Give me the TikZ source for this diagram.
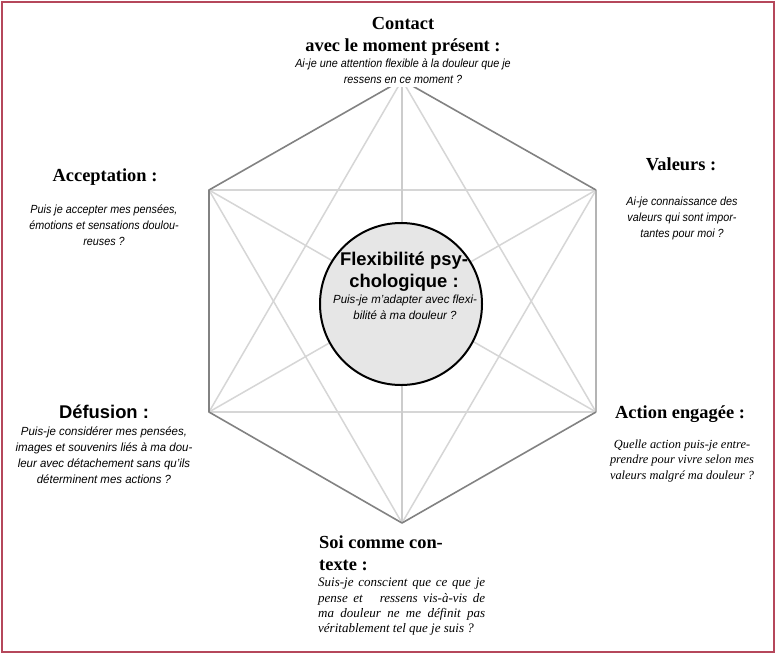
\documentclass[tikz,border=0pt]{standalone}
\usepackage{fontspec}
\setmainfont{Liberation Serif}
\setsansfont{Liberation Sans}
\newfontfamily\narrowsans[FakeStretch=0.915]{Liberation Sans}
\newfontfamily\midsans[FakeStretch=0.97]{Liberation Sans}
\definecolor{frameRed}{HTML}{B5475B}
\definecolor{edgeGrey}{HTML}{828282}
\definecolor{paleEdge}{HTML}{B4B4B4}
\definecolor{innerGrey}{HTML}{D6D6D6}
\definecolor{axisGrey}{HTML}{CCCCCC}
\definecolor{discGrey}{HTML}{E6E6E6}
\tikzset{
  x=1pt,y=-1pt,
  edge/.style={draw=edgeGrey,line width=1.6pt},
  paleedge/.style={draw=paleEdge,line width=2pt},
  inner/.style={draw=innerGrey,line width=1.5pt},
  axis/.style={draw=axisGrey,line width=2pt},
  disc/.style={circle,draw=black,line width=2pt,fill=discGrey,minimum size=162pt,inner sep=0pt},
  serifhead/.style={font=\rmfamily\bfseries\fontsize{18.4}{21.5}\selectfont,align=center,inner sep=0pt},
  sanshead/.style={font=\sffamily\bfseries\fontsize{18.4}{22}\selectfont,align=center,inner sep=0pt},
  sansbody/.style={font=\narrowsans\itshape\fontsize{11.8}{16}\selectfont,align=center,inner sep=0pt},
  midbody/.style={font=\midsans\itshape\fontsize{11.8}{16}\selectfont,align=center,inner sep=0pt},
  serifbody/.style={font=\rmfamily\itshape\fontsize{12.4}{15.4}\selectfont,align=center,inner sep=0pt},
  serifbodybig/.style={font=\rmfamily\itshape\fontsize{13}{15.2}\selectfont,align=left,inner sep=0pt},
}
\begin{document}
\begin{tikzpicture}
\useasboundingbox (0,0) rectangle (776,654);
\fill[white] (0,0) rectangle (776,654);
\coordinate (T) at (402,80);
\coordinate (UR) at (596,190);
\coordinate (LR) at (596,412);
\coordinate (B) at (402,523);
\coordinate (LL) at (209,412);
\coordinate (UL) at (209,190);
% inner star
\draw[inner] (UL) -- (UR);
\draw[inner] (LL) -- (LR);
\draw[inner] (UL) -- (LR);
\draw[inner] (LL) -- (UR);
\draw[inner] (T) -- (LL);
\draw[inner] (T) -- (LR);
\draw[inner] (B) -- (UL);
\draw[inner] (B) -- (UR);
\draw[axis] (T) -- (B);
% outline
\draw[paleedge] (UR) -- (LR);
\draw[edge,line join=round] (LR) -- (B) -- (LL) -- (UL) -- (T) -- (UR);
% centre
\node[disc] (centre) at (401,304) {};
\node[sanshead] (centreHead) at (404,272) {Flexibilité psy-\\chologique :};
\node[midbody] (centreBody) at (405,307) {Puis-je m’adapter avec flexi-\\bilité à ma douleur ?};
% top
\node[sansbody,fill=white,inner xsep=6pt,inner ysep=4pt] (topBody) at (403,71) {Ai-je une attention flexible à la douleur que je\\ressens en ce moment ?};
\node[serifhead] (topHead) at (403,36.5) {Contact\\avec le moment présent :};
% upper left
\node[serifhead] (ulHead) at (105,177.5) {Acceptation :};
\node[sansbody] (ulBody) at (104,225) {Puis je accepter mes pensées,\\émotions et sensations doulou-\\reuses ?};
% upper right
\node[serifhead] (urHead) at (681,164) {Valeurs :};
\node[sansbody] (urBody) at (682,218) {Ai-je connaissance des\\valeurs qui sont impor-\\tantes pour moi ?};
% lower left
\node[sanshead] (llHead) at (104,412) {Défusion :};
\node[midbody] (llBody) at (104,455) {Puis-je considérer mes pensées,\\images et souvenirs liés à ma dou-\\leur avec détachement sans qu’ils\\déterminent mes actions ?};
% lower right
\node[serifhead] (lrHead) at (680,414.5) {Action engagée :};
\node[serifbody] (lrBody) at (682,461) {Quelle action puis-je entre-\\prendre pour vivre selon mes\\valeurs malgré ma douleur ?};
% bottom
\node[serifhead,align=left,anchor=north west] (bHead) at (319,536) {Soi comme con-\\texte :};
\node[serifbodybig,anchor=north west] (bBody) at (318,578) {\makebox[167pt][s]{Suis-je conscient que ce que je}\\\makebox[167pt][s]{pense et\ \ \ ressens vis-à-vis de}\\\makebox[167pt][s]{ma douleur ne me définit pas}\\véritablement tel que je suis ?};
% frame
\node[draw=frameRed,line width=2.4pt,minimum width=772pt,minimum height=650pt,inner sep=0pt] (frame) at (388,327) {};
\end{tikzpicture}
\end{document}
